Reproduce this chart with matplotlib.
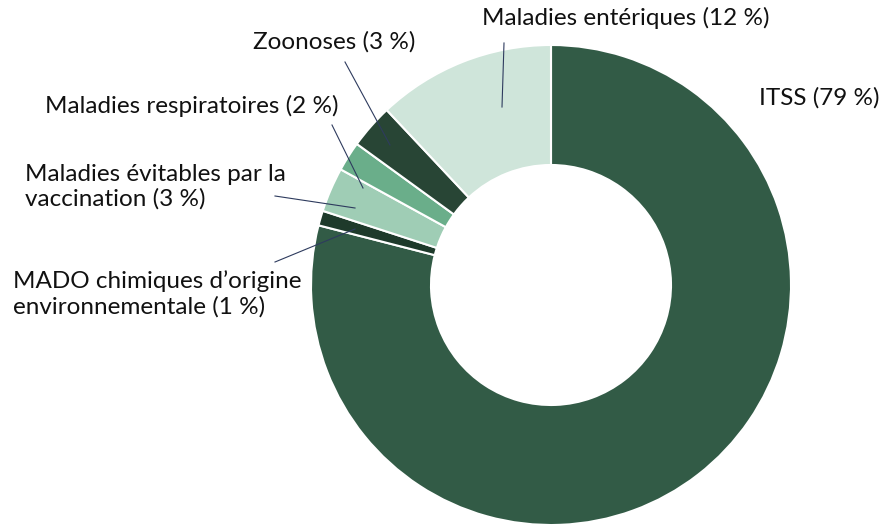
import matplotlib
matplotlib.use("Agg")
import matplotlib.pyplot as plt

# data
categories = ["ITSS", "MADO chimiques d\u2019origine\nenvironnementale",
              "Maladies \u00e9vitables par la\nvaccination",
              "Maladies respiratoires", "Zoonoses", "Maladies ent\u00e9riques"]
shares = [79, 1, 3, 2, 3, 12]
colors = ["#325b46", "#1e3a2b", "#9fcdb5", "#6aae8a", "#284535", "#cfe5da"]

W, H = 882, 527
plt.rcParams['font.family'] = ['Lato', 'DejaVu Sans']

fig = plt.figure(figsize=(W / 100, H / 100), dpi=100)
ax = fig.add_axes([0, 0, 1, 1])

cx, cy, r = 551, H - 285, 240
ax.pie(shares, colors=colors, startangle=90, counterclock=False,
       center=(cx, cy), radius=r, frame=True,
       wedgeprops=dict(width=r * 0.5, edgecolor="white", linewidth=1.5))
ax.set_xlim(0, W)
ax.set_ylim(0, H)
ax.set_aspect("equal")
ax.axis("off")

labels = [f"{c} ({s} %)" for c, s in zip(categories, shares)]
# label anchor (x, y from top), alignment, leader line start/end (from top)
layout = [
    (819, 98, "center", None),
    (13, 294, "left", ((275, 262), (355, 229))),
    (25, 187, "left", ((275, 196), (355, 208))),
    (192, 106, "center", ((332, 125), (363, 188))),
    (334, 42, "center", ((345, 62), (390, 145))),
    (626, 18, "center", ((504, 43), (502, 107))),
]
for lab, (x, y, ha, line) in zip(labels, layout):
    ax.text(x, H - y, lab, ha=ha, va="center", fontsize=17.5, color="#111111",
            linespacing=1.2)
    if line:
        (x0, y0), (x1, y1) = line
        ax.plot([x0, x1], [H - y0, H - y1], color="#2e3b5e", linewidth=0.8)

fig.savefig("out.png", dpi=100)
